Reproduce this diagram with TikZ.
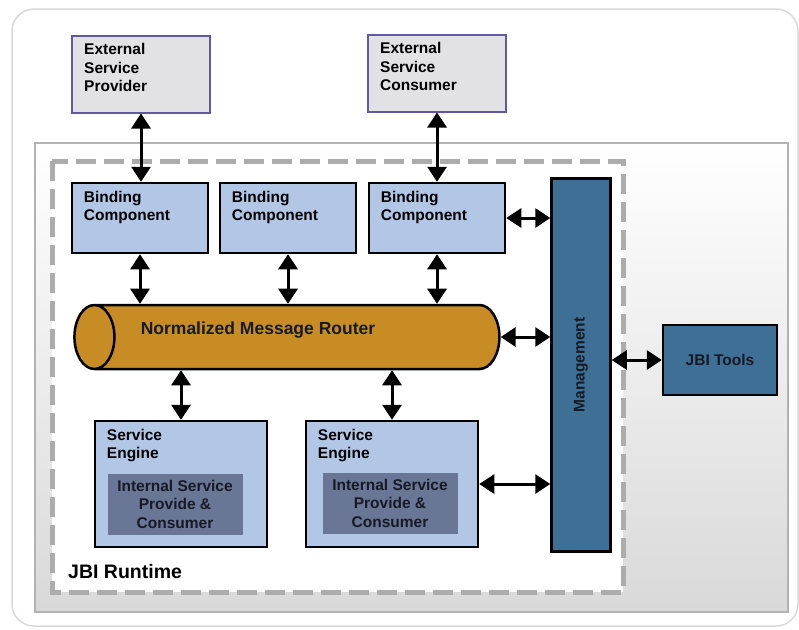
\documentclass[tikz,border=0pt]{standalone}
\usepackage{fontspec}
\setmainfont{Liberation Sans}
\usetikzlibrary{arrows.meta,shapes.geometric}

\definecolor{extfill}{RGB}{226,226,228}
\definecolor{extline}{RGB}{96,88,160}
\definecolor{compfill}{RGB}{178,198,230}
\definecolor{mgmtfill}{RGB}{62,112,150}
\definecolor{innerfill}{RGB}{106,118,150}
\definecolor{nmrfill}{RGB}{200,140,36}
\definecolor{darktext}{RGB}{22,26,36}

\begin{document}
\begin{tikzpicture}[x=1pt, y=-1pt,
  boxfont/.style={font=\fontsize{15.5}{18.5}\selectfont\bfseries},
  boxtext/.style={boxfont, anchor=north west, inner sep=0pt, align=left, xshift=13pt, yshift=-9pt},
  extbox/.style={draw=extline, line width=2pt, fill=extfill, minimum width=138pt, minimum height=77pt},
  compbox/.style={draw, line width=2.5pt, fill=compfill, minimum width=136pt, minimum height=70pt},
  enginebox/.style={draw, line width=2.5pt, fill=compfill, minimum width=172pt, minimum height=126pt},
  innerbox/.style={fill=innerfill, boxfont, text=darktext, align=center, minimum width=135pt, minimum height=61pt},
  mgmtbox/.style={draw, line width=2.5pt, fill=mgmtfill, boxfont, text=darktext},
  biarrow/.style={{Triangle[width=19pt,length=15pt]}-{Triangle[width=19pt,length=15pt]}, line width=3pt}]
  \useasboundingbox (0,0) rectangle (799,629);
  % frame and JBI runtime area
  \draw[gray!30, line width=1.5pt, rounded corners=22pt] (12,9) rectangle (798,626);
  \shade[top color=white, bottom color=gray!30, draw=gray!60, line width=1.5pt] (35,143) rectangle (788,612);
  \draw[gray!65, fill=white, line width=5pt, dash pattern=on 20pt off 8pt] (52,161) rectangle (623,592);
  \node[font=\fontsize{19.5}{22}\selectfont\bfseries, anchor=west, inner sep=0pt] (runtime) at (68,572) {JBI Runtime};

  \node[extbox, label={[boxtext]north west:{External\\Service\\Provider}}] (provider) at (141,74) {};
  \node[extbox, label={[boxtext]north west:{External\\Service\\Consumer}}] (consumer) at (437,73) {};

  \node[compbox, label={[boxtext]north west:{Binding\\Component}}] (bc1) at (140,218) {};
  \node[compbox, label={[boxtext]north west:{Binding\\Component}}] (bc2) at (288,218) {};
  \node[compbox, label={[boxtext]north west:{Binding\\Component}}] (bc3) at (437,218) {};

  \node[cylinder, shape border rotate=180, aspect=6, draw, line width=2.5pt, fill=nmrfill,
        minimum width=64pt, minimum height=425pt,
        label={[font=\fontsize{17.5}{20}\selectfont\bfseries, text=darktext, xshift=-44pt, yshift=7pt]center:Normalized Message Router}] (nmr) at (302,337) {};

  \node[enginebox, label={[boxtext]north west:{Service\\Engine}}] (se1) at (181,484) {};
  \node[enginebox, label={[boxtext]north west:{Service\\Engine}}] (se2) at (392,484) {};
  \node[innerbox] (isp1) at (175,504) {Internal Service\\Provide \&\\Consumer};
  \node[innerbox] (isp2) at (390,503) {Internal Service\\Provide \&\\Consumer};

  \node[mgmtbox, minimum width=59pt, minimum height=373pt] (mgmt) at (581,365) {};
  \node[boxfont, text=darktext, rotate=90] (mgmtlabel) at (mgmt.center) {Management};
  \node[mgmtbox, minimum width=114pt, minimum height=70pt] (tools) at (720,360) {JBI Tools};

  \draw[biarrow] (provider.south) -- (provider.south |- bc1.north);
  \draw[biarrow] (consumer.south) -- (consumer.south |- bc3.north);
  \draw[biarrow] (bc1.south) -- (bc1.south |- nmr.north);
  \draw[biarrow] (bc2.south) -- (bc2.south |- nmr.north);
  \draw[biarrow] (bc3.south) -- (bc3.south |- nmr.north);
  \draw[biarrow] (bc3.east) -- (bc3.east -| mgmt.west);
  \draw[biarrow] (nmr.east) -- (nmr.east -| mgmt.west);
  \draw[biarrow] (se1.north |- nmr.south) -- (se1.north);
  \draw[biarrow] (se2.north |- nmr.south) -- (se2.north);
  \draw[biarrow] (se2.east) -- (se2.east -| mgmt.west);
  \draw[biarrow] (mgmt.east |- tools.west) -- (tools.west);
\end{tikzpicture}
\end{document}
